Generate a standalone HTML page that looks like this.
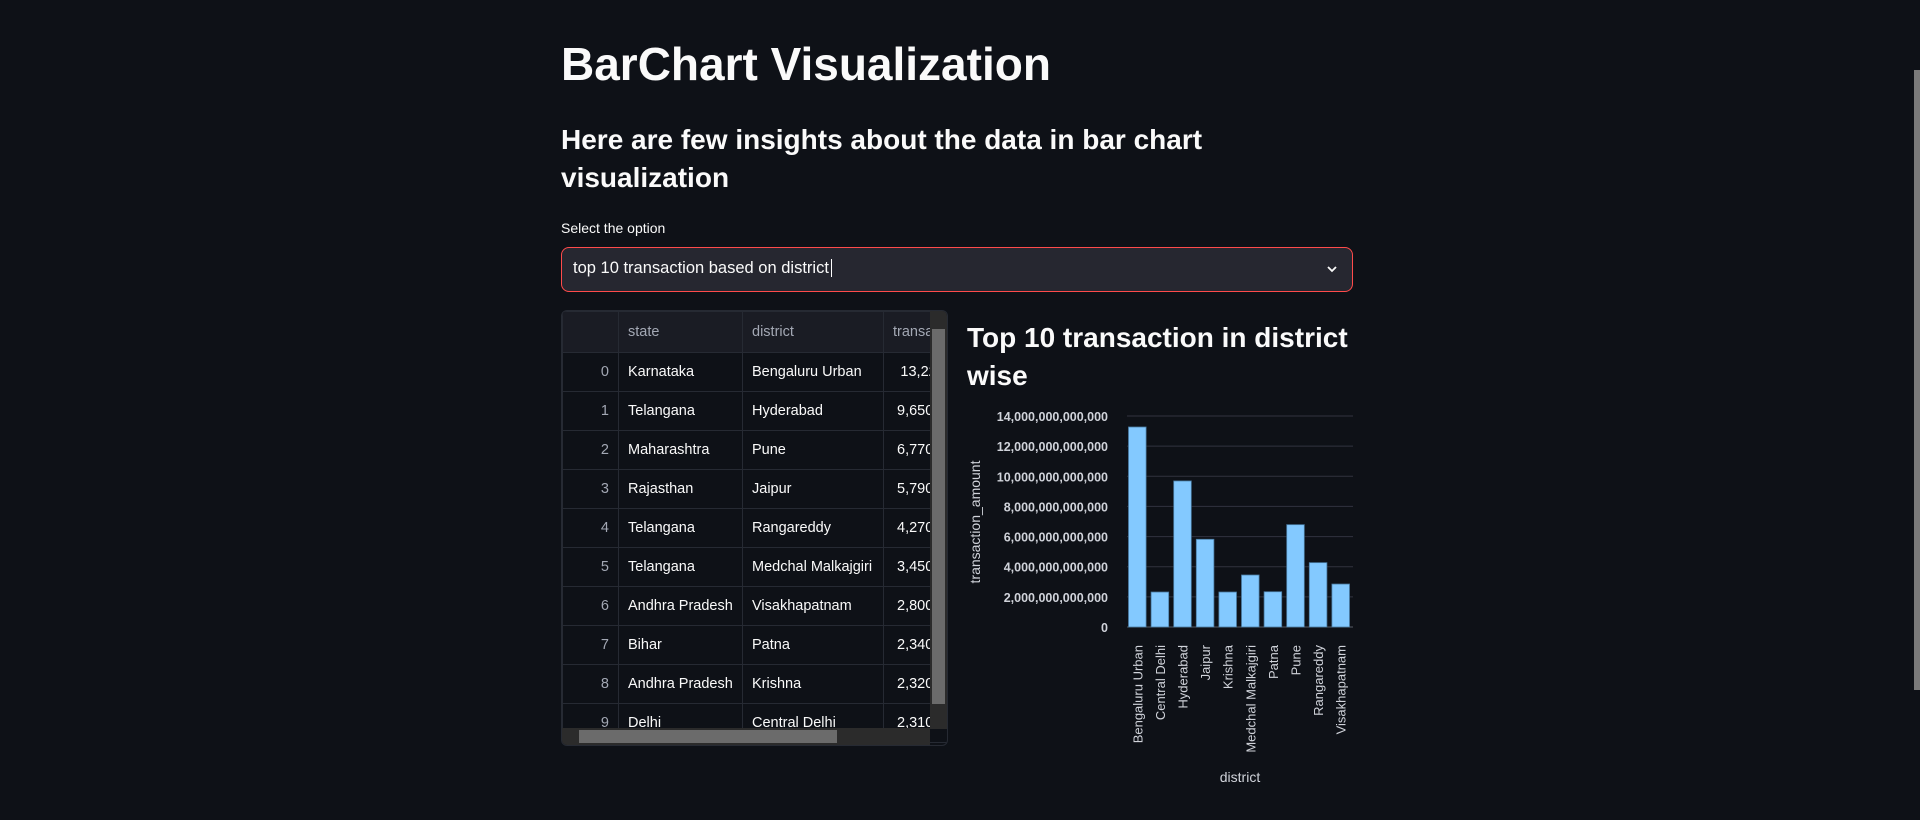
<!DOCTYPE html>
<html><head><meta charset="utf-8"><style>
body{margin:0;width:1920px;height:820px;background:#0e1117;overflow:hidden;font-family:"Liberation Sans",sans-serif;color:#fafafa;position:relative}
.abs{position:absolute;white-space:nowrap}
h1{margin:0;font-size:46px;font-weight:bold}
.sub{font-size:28px;font-weight:bold;line-height:38px}
table{border-collapse:collapse;font-size:14.5px}
td,th{border:1px solid #262a33;height:38px;padding:0 9px;white-space:nowrap;overflow:hidden}
th{font-weight:normal;color:#a3a8b4;text-align:left;background:#1a1c24;height:40px}
</style></head><body>
<div class="abs" style="left:561px;top:37px"><h1>BarChart Visualization</h1></div>
<div class="abs sub" style="left:561px;top:121px">Here are few insights about the data in bar chart<br>visualization</div>
<div class="abs" style="left:561px;top:220px;font-size:14px">Select the option</div>
<div class="abs" style="left:561px;top:247px;width:790px;height:43px;border:1px solid #ff4b4b;border-radius:8px;background:#262730">
<span style="position:absolute;left:11px;top:11px;font-size:16.5px">top 10 transaction based on district<span style="border-left:1px solid #fff;margin-left:2px"></span></span>
<svg style="position:absolute;right:14px;top:16px" width="12" height="10"><path d="M2 3 L6 7 L10 3" stroke="#fafafa" stroke-width="1.8" fill="none"/></svg></div>
<div class="abs" style="left:561px;top:310px;width:385px;height:434px;border:1px solid #262a33;border-radius:6px;overflow:hidden;background:#0e1117">
<table style="width:420px;table-layout:fixed">
<colgroup><col style="width:56px"><col style="width:124px"><col style="width:141px"><col style="width:99px"></colgroup>
<tr><th></th><th>state</th><th>district</th><th>transaction</th></tr>
<tr><td style="text-align:right;color:#a3a8b4">0</td><td>Karnataka</td><td>Bengaluru Urban</td><td style="text-align:right">13,220,000</td></tr>
<tr><td style="text-align:right;color:#a3a8b4">1</td><td>Telangana</td><td>Hyderabad</td><td>&nbsp;9,650,000</td></tr>
<tr><td style="text-align:right;color:#a3a8b4">2</td><td>Maharashtra</td><td>Pune</td><td>&nbsp;6,770,000</td></tr>
<tr><td style="text-align:right;color:#a3a8b4">3</td><td>Rajasthan</td><td>Jaipur</td><td>&nbsp;5,790,000</td></tr>
<tr><td style="text-align:right;color:#a3a8b4">4</td><td>Telangana</td><td>Rangareddy</td><td>&nbsp;4,270,000</td></tr>
<tr><td style="text-align:right;color:#a3a8b4">5</td><td>Telangana</td><td>Medchal Malkajgiri</td><td>&nbsp;3,450,000</td></tr>
<tr><td style="text-align:right;color:#a3a8b4">6</td><td>Andhra Pradesh</td><td>Visakhapatnam</td><td>&nbsp;2,800,000</td></tr>
<tr><td style="text-align:right;color:#a3a8b4">7</td><td>Bihar</td><td>Patna</td><td>&nbsp;2,340,000</td></tr>
<tr><td style="text-align:right;color:#a3a8b4">8</td><td>Andhra Pradesh</td><td>Krishna</td><td>&nbsp;2,320,000</td></tr>
<tr><td style="text-align:right;color:#a3a8b4">9</td><td>Delhi</td><td>Central Delhi</td><td>&nbsp;2,310,000</td></tr>
</table>
<div style="position:absolute;left:368px;top:0;width:17px;height:418px;background:#2b2b2b"><div style="margin:18px 2px;height:375px;background:#6b6b6b"></div></div>
<div style="position:absolute;left:0;top:417px;width:368px;height:17px;background:#2b2b2b"><div style="margin:2px 0 0 17px;width:258px;height:13px;background:#6b6b6b"></div></div>
</div>
<div class="abs" style="left:1914px;top:70px;width:6px;height:620px;background:#7a7a7a"></div>
<div class="abs" style="left:967px;top:319px;font-size:28px;font-weight:bold;line-height:38px">Top 10 transaction in district<br>wise</div>
<svg id="chart" width="1920" height="820" style="position:absolute;left:0;top:0"></svg>
<script>
const categories=["Bengaluru Urban","Central Delhi","Hyderabad","Jaipur","Krishna","Medchal Malkajgiri","Patna","Pune","Rangareddy","Visakhapatnam"];
const values=[13.27e12,2.32e12,9.69e12,5.82e12,2.32e12,3.45e12,2.34e12,6.79e12,4.27e12,2.85e12];
const ticks=[0,2e12,4e12,6e12,8e12,10e12,12e12,14e12];
const ticks_labels=["0","2,000,000,000,000","4,000,000,000,000","6,000,000,000,000","8,000,000,000,000","10,000,000,000,000","12,000,000,000,000","14,000,000,000,000"];
const NS="http://www.w3.org/2000/svg",svg=document.getElementById('chart');
const x0=1127,x1=1353,yB=627,yT=416,yMax=14e12;
const y=v=>yB-(v/yMax)*(yB-yT);
const step=(x1-x0)/categories.length;
const xb=i=>x0+i*step;
function mk(t,a,txt){const e=document.createElementNS(NS,t);for(const k in a)e.setAttribute(k,a[k]);if(txt!=null)e.textContent=txt;svg.appendChild(e);return e;}
ticks.forEach((t,i)=>{
 const g=mk('line',{x1:x0,x2:x1,y1:y(t),y2:y(t),stroke:i==0?'#555a66':'#31333f','stroke-width':1});
 
 
 const l=mk('text',{x:1108,y:y(t)+5,'text-anchor':'end','font-size':12.5,'font-weight':'bold',fill:'#d0d3da','font-family':'Liberation Sans, sans-serif'},ticks_labels[i]);
 
 
});
categories.forEach((c,i)=>{
 const b=mk('rect',{x:xb(i)+1.5,y:y(values[i]),width:step-5,height:yB-y(values[i]),fill:'#83c9ff',stroke:'#4a7ca3','stroke-width':0.8});
 
 
 const cx=xb(i)+step/2;
 const t=mk('text',{x:cx+4,y:645,transform:`rotate(-90 ${cx+4} 645)`,'text-anchor':'end','font-size':13,fill:'#d0d3da','font-family':'Liberation Sans, sans-serif'},c);
 
 
});
const yt=mk('text',{x:980,y:522,transform:'rotate(-90 980 522)','text-anchor':'middle','font-size':14,fill:'#d0d3da','font-family':'Liberation Sans, sans-serif'},'transaction_amount');


const xt=mk('text',{x:1240,y:782,'text-anchor':'middle','font-size':14,fill:'#d0d3da','font-family':'Liberation Sans, sans-serif'},'district');


</script>
</body></html>
